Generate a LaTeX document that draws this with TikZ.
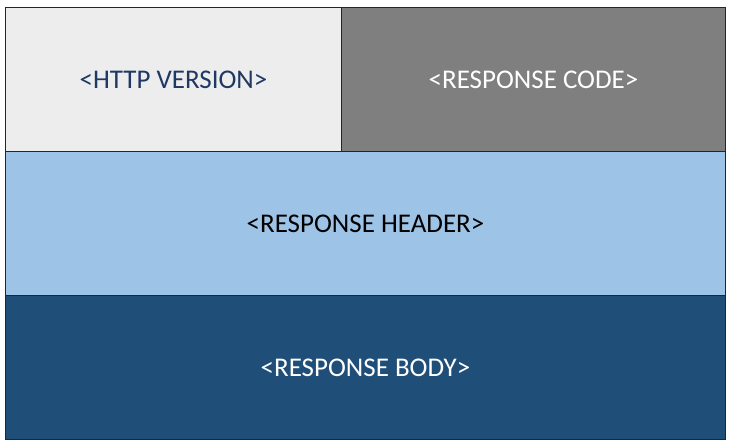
\documentclass[tikz,border=0pt]{standalone}
\usepackage{fontspec}
\setmainfont{Carlito}
\definecolor{bordc}{HTML}{14245A}
\definecolor{lgray}{HTML}{EDEDED}
\definecolor{dgray}{HTML}{7F7F7F}
\definecolor{lblue}{HTML}{9DC3E6}
\definecolor{dblue}{HTML}{1F4E79}
\definecolor{navytext}{HTML}{203864}
\tikzset{
  cell/.style={draw=bordc, line width=1.5pt, minimum height=144pt, inner sep=0pt, font=\fontsize{27}{32}\selectfont}
}
\begin{document}
\begin{tikzpicture}[x=1pt,y=-1pt]
\useasboundingbox (0,0) rectangle (730,446);
\node[cell, fill=lgray, text=navytext, minimum width=336pt] (ver) at (173.5,79.5) {<HTTP VERSION>};
\node[cell, fill=dgray, text=white, minimum width=384pt] (code) at (533.5,79.5) {<RESPONSE CODE>};
\node[cell, fill=lblue, text=black, minimum width=720pt] (head) at (365.5,223.5) {<RESPONSE HEADER>};
\node[cell, fill=dblue, text=white, minimum width=720pt] (body) at (365.5,367.5) {<RESPONSE BODY>};
\end{tikzpicture}
\end{document}
